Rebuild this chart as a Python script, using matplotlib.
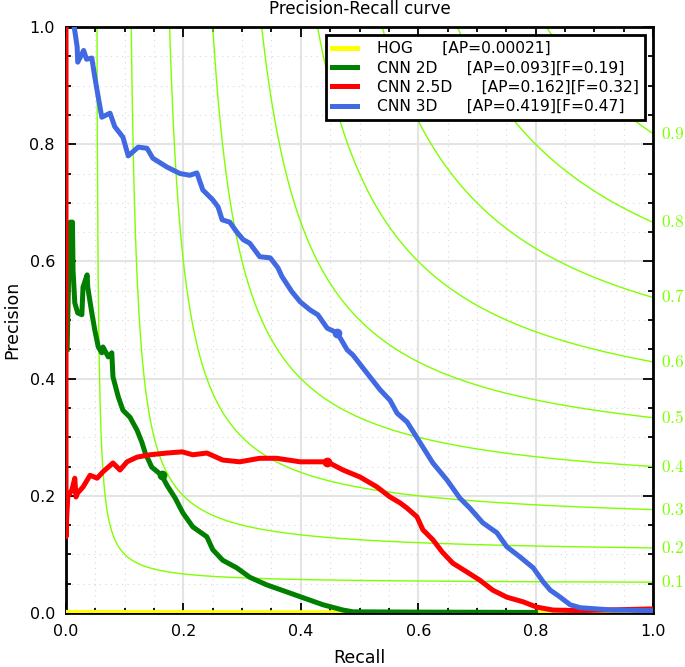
#!/usr/bin/env python3
"""Precision-Recall curves with iso-F1 contours."""

import numpy as np
import matplotlib
matplotlib.use('Agg')
import matplotlib.pyplot as plt
from matplotlib.ticker import MultipleLocator

plt.rcParams.update({
    'font.family': 'DejaVu Sans',
    'font.size': 11,
    'mathtext.fontset': 'cm',
})

# ---- data ----
hog_recall = [0.0, 0.1, 0.3, 0.5, 0.8, 1.0]
hog_precision = [0.001, 0.0008, 0.0006, 0.0005, 0.0004, 0.0004]

cnn2d_recall = [0.002, 0.005, 0.007, 0.011, 0.012, 0.015, 0.020, 0.027, 0.029, 0.036,
                0.037, 0.044, 0.049, 0.055, 0.061, 0.063, 0.072, 0.078, 0.080, 0.089,
                0.097, 0.109, 0.121, 0.129, 0.135, 0.146, 0.163, 0.172, 0.186, 0.199,
                0.216, 0.240, 0.250, 0.267, 0.291, 0.313, 0.342, 0.376, 0.404, 0.438,
                0.472, 0.489, 0.6, 0.8]
cnn2d_precision = [0.45, 0.60, 0.667, 0.667, 0.585, 0.529, 0.512, 0.509, 0.556, 0.577,
                   0.556, 0.512, 0.483, 0.454, 0.444, 0.454, 0.437, 0.444, 0.403, 0.369,
                   0.346, 0.334, 0.312, 0.292, 0.273, 0.249, 0.235, 0.218, 0.196, 0.171,
                   0.147, 0.130, 0.108, 0.090, 0.077, 0.061, 0.048, 0.036, 0.026, 0.014,
                   0.005, 0.002, 0.0015, 0.001]

cnn25d_recall = [0.0, 0.0, 0.001, 0.003, 0.010, 0.015, 0.017, 0.020, 0.029, 0.041,
                 0.053, 0.063, 0.080, 0.092, 0.104, 0.121, 0.143, 0.172, 0.198, 0.216,
                 0.240, 0.267, 0.296, 0.330, 0.359, 0.399, 0.445, 0.472, 0.501, 0.530,
                 0.552, 0.569, 0.581, 0.598, 0.608, 0.625, 0.641, 0.659, 0.683, 0.705,
                 0.727, 0.751, 0.779, 0.802, 0.830, 0.876, 1.0]
cnn25d_precision = [1.0, 0.13, 0.159, 0.198, 0.210, 0.230, 0.198, 0.205, 0.215, 0.235,
                    0.230, 0.241, 0.256, 0.244, 0.258, 0.266, 0.270, 0.273, 0.275, 0.270,
                    0.273, 0.261, 0.258, 0.264, 0.264, 0.258, 0.258, 0.244, 0.232, 0.215,
                    0.198, 0.188, 0.179, 0.164, 0.142, 0.125, 0.104, 0.085, 0.070, 0.056,
                    0.039, 0.027, 0.019, 0.010, 0.005, 0.004, 0.007]

cnn3d_recall = [0.012, 0.014, 0.019, 0.020, 0.030, 0.035, 0.044, 0.049, 0.055, 0.061,
                0.075, 0.083, 0.097, 0.106, 0.123, 0.138, 0.148, 0.172, 0.194, 0.211,
                0.223, 0.233, 0.250, 0.259, 0.266, 0.279, 0.291, 0.302, 0.313, 0.330,
                0.348, 0.361, 0.368, 0.385, 0.399, 0.416, 0.429, 0.445, 0.462, 0.479,
                0.489, 0.506, 0.535, 0.552, 0.564, 0.581, 0.598, 0.608, 0.625, 0.649,
                0.671, 0.688, 0.710, 0.734, 0.751, 0.773, 0.796, 0.813, 0.825, 0.842,
                0.859, 0.876, 0.932, 1.0]
cnn3d_precision = [1.02, 1.0, 0.966, 0.94, 0.96, 0.945, 0.947, 0.915, 0.88, 0.846,
                   0.853, 0.83, 0.812, 0.78, 0.795, 0.793, 0.776, 0.761, 0.75, 0.747,
                   0.751, 0.722, 0.705, 0.693, 0.671, 0.667, 0.650, 0.637, 0.631, 0.608,
                   0.606, 0.589, 0.574, 0.548, 0.531, 0.517, 0.509, 0.486, 0.478, 0.449,
                   0.440, 0.418, 0.381, 0.363, 0.341, 0.326, 0.299, 0.283, 0.256, 0.227,
                   0.196, 0.179, 0.154, 0.137, 0.113, 0.096, 0.077, 0.053, 0.039, 0.027,
                   0.014, 0.009, 0.005, 0.004]

# operating points marked on each curve
marker_recall = [0.163, 0.445, 0.462]
marker_precision = [0.235, 0.258, 0.478]

series_labels = ['HOG      [AP=0.00021]',
                 'CNN 2D      [AP=0.093][F=0.19]',
                 'CNN 2.5D      [AP=0.162][F=0.32]',
                 'CNN 3D      [AP=0.419][F=0.47]']
series_colors = ['#ffff00', '#007f00', '#ff0000', '#4169e1']

f_scores = [0.1, 0.2, 0.3, 0.4, 0.5, 0.6, 0.7, 0.8, 0.9]
iso_color = '#7fff00'

fig = plt.figure(figsize=(6.85, 6.67), dpi=100)
ax = fig.add_axes([66 / 685, 54 / 667, 587 / 685, 586 / 667])

# iso-F1 curves
for f in f_scores:
    r = np.linspace(f / 2 + 1e-4, 1.0, 600)
    p = f * r / (2 * r - f)
    ax.plot(r, p, color=iso_color, lw=1.0, zorder=2)
    ax.text(1.014, f / (2 - f), f'${f:.1f}$', color=iso_color, fontsize=12.5,
            ha='left', va='center', transform=ax.transData, clip_on=False)

curves = [(hog_recall, hog_precision), (cnn2d_recall, cnn2d_precision),
          (cnn25d_recall, cnn25d_precision), (cnn3d_recall, cnn3d_precision)]
for (r, p), lab, col in zip(curves, series_labels, series_colors):
    ax.plot(r, p, color=col, lw=3.6, label=lab, zorder=3, solid_joinstyle='round')

for mr, mp, col in zip(marker_recall, marker_precision, series_colors[1:]):
    ax.plot(mr, mp, 'o', color=col, ms=6, zorder=4)

ax.set_xlim(0, 1)
ax.set_ylim(0, 1)
ax.xaxis.set_major_locator(MultipleLocator(0.2))
ax.yaxis.set_major_locator(MultipleLocator(0.2))
ax.xaxis.set_minor_locator(MultipleLocator(0.05))
ax.yaxis.set_minor_locator(MultipleLocator(0.05))
ax.grid(which='major', color='#e4e4e4', lw=1.5, zorder=0)
ax.grid(which='minor', color='#d8d8d8', lw=0.8, ls=(0, (1, 4)), zorder=0)
ax.set_axisbelow(True)
ax.tick_params(which='both', direction='in', top=True, right=True, width=1.3,
               labelsize=11.5, pad=8)
ax.tick_params(which='major', length=7)
ax.tick_params(which='minor', length=3.5)
for s in ax.spines.values():
    s.set_linewidth(2.0)

ax.set_xlabel('Recall', fontsize=12.5, labelpad=7)
ax.set_ylabel('Precision', fontsize=12.5, labelpad=6)
ax.set_title('Precision-Recall curve', fontsize=12, pad=9)

leg = ax.legend(loc='upper right', fontsize=11.2, labelspacing=0.28,
                handlelength=1.6, handletextpad=1.3, borderaxespad=0.5,
                fancybox=False, framealpha=1.0, edgecolor='black')
leg.get_frame().set_linewidth(2.0)
leg.set_zorder(5)

fig.savefig('out.png', dpi=100)
